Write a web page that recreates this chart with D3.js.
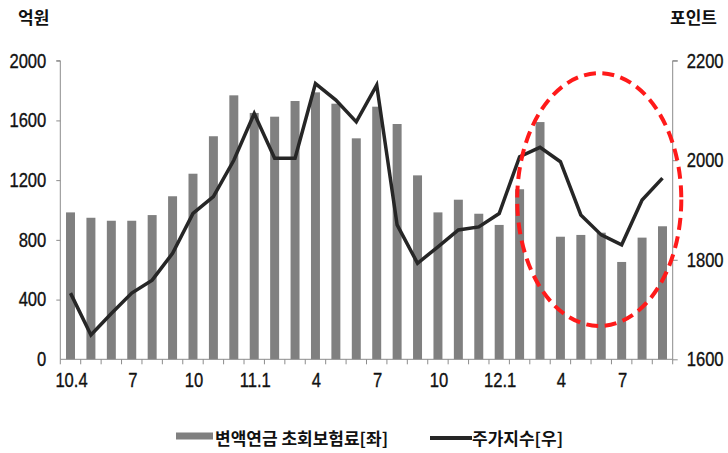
<!DOCTYPE html>
<html>
<head>
<meta charset="utf-8">
<script src="https://cdn.jsdelivr.net/npm/d3@7"></script>
<style>
  html, body { margin: 0; padding: 0; background: #fff; }
  svg { display: block; }
  .num { font-family: "Liberation Sans", Arial, sans-serif; font-size: 20px; fill: #111; stroke: #111; stroke-width: 0.35px; }
  .kr { font-family: "Noto Sans CJK KR", sans-serif; font-weight: 700; fill: #111; }
</style>
</head>
<body>
<svg id="chart" width="728" height="453"></svg>
<script>
// Monthly series, 2010.4 – 2012.9
const months = [
  "10.4","10.5","10.6","10.7","10.8","10.9","10.10","10.11","10.12",
  "11.1","11.2","11.3","11.4","11.5","11.6","11.7","11.8","11.9","11.10","11.11","11.12",
  "12.1","12.2","12.3","12.4","12.5","12.6","12.7","12.8","12.9"
];
// 변액연금 초회보험료 (억원, left axis)
const premium = [
  984, 948, 928, 928, 966, 1092, 1243, 1494, 1768,
  1650, 1625, 1730, 1788, 1712, 1480, 1692, 1576, 1232, 984, 1069, 975,
  900, 1139, 1589, 821, 833, 848, 652, 815, 891
];
// 주가지수 (포인트, right axis)
const stockIndex = [
  1733, 1649, 1692, 1733, 1759, 1813, 1893, 1927, 2000,
  2094, 2004, 2004, 2154, 2121, 2077, 2151, 1870, 1793, 1826, 1860, 1866,
  1893, 2007, 2026, 1997, 1890, 1850, 1830, 1920, 1964
];
// Month labels shown on the x axis
const tickLabels = {"10.4":"10.4","10.7":"7","10.10":"10","11.1":"11.1","11.4":"4","11.7":"7",
                    "11.10":"10","12.1":"12.1","12.4":"4","12.7":"7"};
const leftTicks = [0, 400, 800, 1200, 1600, 2000];
const rightTicks = [1600, 1800, 2000, 2200];
const legendItems = ["변액연금 초회보험료[좌]", "주가지수[우]"];

const svg = d3.select("#chart");
const m = { left: 60.3, right: 672.7, top: 60.7, bottom: 359.3 };
const squeeze = 0.83; // condensed look for numeric labels

const x = d3.scaleBand().domain(months).range([m.left, m.right]).paddingInner(0.56).paddingOuter(0.28);
const xTicks = d3.scaleBand().domain(months).range([m.left, m.right]);
const yL = d3.scaleLinear().domain([0, 2000]).range([m.bottom, m.top]);
const yR = d3.scaleLinear().domain([1600, 2200]).range([m.bottom, m.top]);

// Bars
svg.append("g").selectAll("rect").data(months).join("rect")
  .attr("x", d => x(d))
  .attr("width", x.bandwidth())
  .attr("y", (d, i) => yL(premium[i]))
  .attr("height", (d, i) => yL(0) - yL(premium[i]))
  .attr("fill", "#808080");

// Axes
const axisColor = "#8c8c8c";
const gl = svg.append("g").attr("transform", `translate(${m.left},0)`)
  .call(d3.axisLeft(yL).tickValues(leftTicks).tickSize(4).tickPadding(10).tickFormat(d3.format("d")));
const gr = svg.append("g").attr("transform", `translate(${m.right},0)`)
  .call(d3.axisRight(yR).tickValues(rightTicks).tickSize(5).tickPadding(9).tickFormat(d3.format("d")));

[gl, gr].forEach(g => {
  g.attr("font-family", null).attr("font-size", null);
  g.select(".domain").attr("stroke", axisColor).attr("d",
    g === gl ? `M-4,${m.top}H0V${m.bottom}` : `M5,${m.top}H0V${m.bottom}`);
  g.selectAll(".tick line").attr("stroke", axisColor);
  g.selectAll(".tick text").attr("class", "num")
    .attr("x", function () { return +d3.select(this).attr("x") / squeeze; })
    .attr("transform", `scale(${squeeze},1)`);
});
gl.selectAll(".tick").filter(d => d === 0).select("line").remove();

// x axis: tick marks on month boundaries, labels under the month
const gx = svg.append("g").attr("transform", `translate(0,${m.bottom})`);
gx.append("line").attr("x1", m.left).attr("x2", m.right).attr("stroke", axisColor);
gx.selectAll("line.t").data(months.concat(["end"])).join("line").attr("class", "t")
  .attr("x1", (d, i) => i < months.length ? xTicks(d) : m.right)
  .attr("x2", (d, i) => i < months.length ? xTicks(d) : m.right)
  .attr("y1", 0).attr("y2", 5).attr("stroke", axisColor);
gx.selectAll("text").data(months.filter(d => tickLabels[d])).join("text")
  .attr("class", "num")
  .attr("transform", d => `translate(${x(d) + x.bandwidth() / 2 + 1},27.5) scale(${squeeze},1)`)
  .attr("text-anchor", "middle")
  .text(d => tickLabels[d]);

// Index line
const line = d3.line().x((d, i) => x(months[i]) + x.bandwidth() / 2).y(d => yR(d));
svg.append("path").datum(stockIndex).attr("d", line)
  .attr("fill", "none").attr("stroke", "#262626").attr("stroke-width", 3.5)
  .attr("stroke-linejoin", "miter");

// Highlight ellipse around the 2012 Q2-Q3 period
const ex = x("12.6") + x.bandwidth() / 2 - 2;
svg.append("ellipse")
  .attr("cx", ex).attr("cy", yR(1921))
  .attr("rx", xTicks.step() * 4.02).attr("ry", yR(1600) - yR(1854))
  .attr("fill", "none").attr("stroke", "#ff1a1a").attr("stroke-width", 4)
  .attr("stroke-dasharray", "12,6.5");

// Unit labels
svg.append("text").attr("class", "kr").attr("x", 18).attr("y", 24)
  .style("font-size", "17px").text("억원");
svg.append("text").attr("class", "kr").attr("x", 717).attr("y", 24)
  .attr("text-anchor", "end").style("font-size", "17px").text("포인트");

// Legend
const lg = svg.append("g");
lg.append("rect").attr("x", 176).attr("y", 432.5).attr("width", 37).attr("height", 7).attr("fill", "#808080");
lg.append("text").attr("class", "kr").attr("x", 215).attr("y", 445)
  .style("font-size", "17px").text(legendItems[0]);
lg.append("line").attr("x1", 430).attr("x2", 472).attr("y1", 438).attr("y2", 438)
  .attr("stroke", "#262626").attr("stroke-width", 4);
lg.append("text").attr("class", "kr").attr("x", 472).attr("y", 445)
  .style("font-size", "17px").text(legendItems[1]);
</script>
</body>
</html>
